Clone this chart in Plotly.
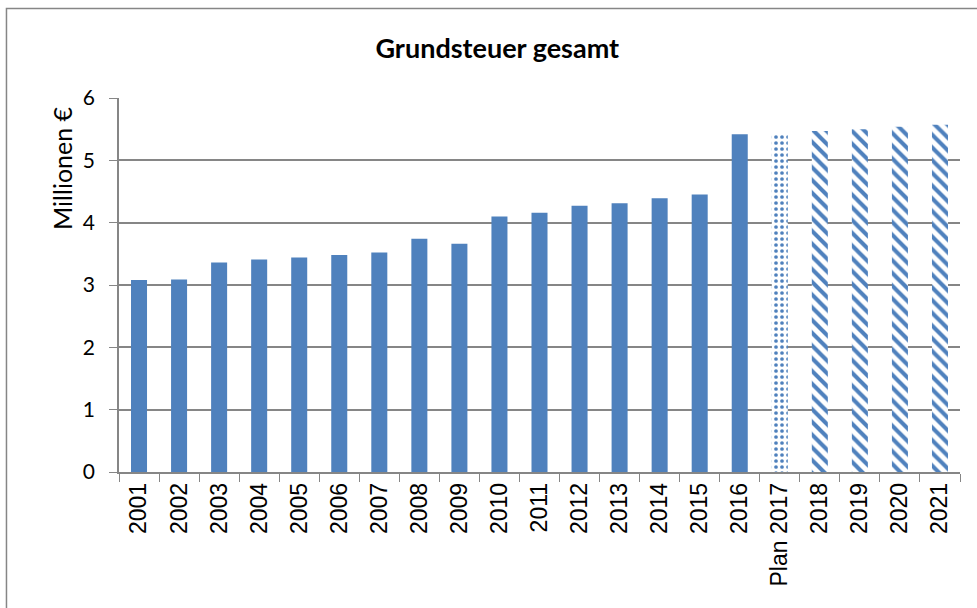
import plotly.graph_objects as go

categories = ["2001", "2002", "2003", "2004", "2005", "2006", "2007", "2008", "2009", "2010",
              "2011", "2012", "2013", "2014", "2015", "2016", "Plan 2017", "2018", "2019", "2020", "2021"]
values = [3.08, 3.09, 3.36, 3.41, 3.44, 3.48, 3.52, 3.74, 3.66, 4.10,
          4.16, 4.27, 4.31, 4.39, 4.45, 5.42, 5.43, 5.47, 5.50, 5.54, 5.57]
y_ticks = [0, 1, 2, 3, 4, 5, 6]

blue = "#4F81BD"
pattern_shapes = []
pattern_sizes = []
pattern_solidity = []
for c in categories:
    if c.startswith("Plan"):
        pattern_shapes.append(".")
        pattern_sizes.append(6)
        pattern_solidity.append(0.3)
    elif c in ("2018", "2019", "2020", "2021"):
        pattern_shapes.append("\\")
        pattern_sizes.append(9)
        pattern_solidity.append(0.45)
    else:
        pattern_shapes.append("")
        pattern_sizes.append(8)
        pattern_solidity.append(0.3)

fig = go.Figure(go.Bar(
    x=categories, y=values,
    marker=dict(color=blue, line=dict(width=0),
                pattern=dict(shape=pattern_shapes, fgcolor=blue, bgcolor="white",
                             fillmode="replace", size=pattern_sizes, solidity=pattern_solidity)),
))

fig.update_layout(
    width=977, height=608,
    margin=dict(l=119, r=17, t=98, b=136),
    paper_bgcolor="white", plot_bgcolor="white",
    bargap=0.6,
    showlegend=False,
    title=dict(text="<b>Grundsteuer gesamt</b>", x=0.509, xanchor="center", y=0.92, yanchor="middle",
               font=dict(family="Lato", size=27, color="black")),
    font=dict(family="Liberation Sans, Arial", size=23, color="black"),
    xaxis=dict(
        type="category", tickangle=-90, tickson="boundaries",
        ticks="outside", ticklen=8, tickcolor="#868686",
        showline=True, linecolor="#868686", linewidth=1.5,
        showgrid=False, tickfont=dict(family="Liberation Sans, Arial", size=23),
    ),
    yaxis=dict(
        range=[0, 6], tickvals=y_ticks, ticks="outside", ticklen=8, tickcolor="#868686",
        showline=True, linecolor="#868686", linewidth=1.5,
        showgrid=True, gridcolor="#868686", gridwidth=1.5, zeroline=False,
        tickfont=dict(family="Lato", size=21), ticklabelstandoff=10,
    ),
    annotations=[dict(text="Millionen €", textangle=-90, xref="paper", yref="paper",
                      x=-0.0678, y=0.813, xanchor="center", yanchor="middle", showarrow=False,
                      font=dict(family="Lato", size=25, color="black"))],
    shapes=[dict(type="rect", xref="paper", yref="paper",
                 x0=-0.1338, x1=1.1, y0=-0.6, y1=1.239,
                 line=dict(color="#868686", width=1.5), fillcolor="rgba(0,0,0,0)")],
)

fig.write_html("out.html", config={"displayModeBar": False},
               post_script="document.body.style.margin='0';")
